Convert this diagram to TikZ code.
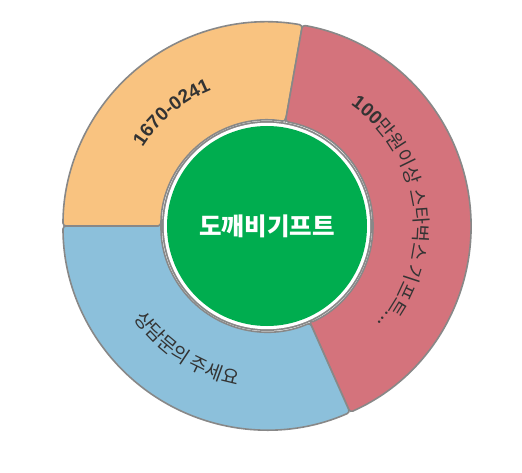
\documentclass[tikz,border=0pt]{standalone}
\usepackage{fontspec}
\setmainfont{Liberation Sans}
\newfontfamily\krfont{Noto Sans CJK KR}
\newfontfamily\digitfont{Liberation Sans}
\usetikzlibrary{decorations.text}
\definecolor{segorange}{RGB}{249,195,128}
\definecolor{segred}{RGB}{212,115,124}
\definecolor{segblue}{RGB}{140,192,219}
\definecolor{hubgreen}{RGB}{0,173,79}
\definecolor{ringgray}{RGB}{136,136,136}
\definecolor{labelgray}{RGB}{51,51,51}
\newcommand\lblnum{\digitfont\bfseries\fontsize{19}{19}\selectfont}
\newcommand\lblhan{\krfont\mdseries\fontsize{19}{19}\selectfont}

\tikzset{
  segment/.style={draw=ringgray, line width=1.6pt, rounded corners=3pt},
  arclabel/.style={decorate, decoration={text along path, text align=center,
    text color=labelgray, text={#1}}},
}

\begin{document}
\begin{tikzpicture}
  \useasboundingbox (0,0) rectangle (522pt,472pt);
  \def\rin{106pt}\def\rout{204pt}

  \begin{scope}[shift={(267pt,246pt)}]
    % Segment 1: phone number
    \draw[segment, fill=segorange] (80:\rin) -- (80:\rout)
      arc[start angle=80, end angle=180, radius=\rout] -- (180:\rin)
      arc[start angle=180, end angle=80, radius=\rin] -- cycle;

    % Segment 2: gift offer
    \draw[segment, fill=segred] (-66:\rin) -- (-66:\rout)
      arc[start angle=-66, end angle=80, radius=\rout] -- (80:\rin)
      arc[start angle=80, end angle=-66, radius=\rin] -- cycle;

    % Segment 3: contact
    \draw[segment, fill=segblue] (180:\rin) -- (180:\rout)
      arc[start angle=180, end angle=294, radius=\rout] -- (294:\rin)
      arc[start angle=294, end angle=180, radius=\rin] -- cycle;

    % Labels along the ring
    \path[arclabel={|\lblnum|1670-0241}]
      (180:147pt) arc[start angle=180, end angle=80, radius=147pt];
    \path[arclabel={|\lblnum|100|\lblhan|만원이상 스타벅스 기프트...}]
      (80:147pt) arc[start angle=80, end angle=-66, radius=147pt];
    \path[arclabel={|\lblhan|상담문의 주세요}]
      (180:162pt) arc[start angle=180, end angle=294, radius=162pt];

    % Hub
    \fill[ringgray] (0,0) circle (105pt);
    \fill[white] (0,0) circle (103.2pt);
    \fill[hubgreen] (0,0) circle (100pt);
    \node[font=\krfont\bfseries\fontsize{24.5}{24.5}\selectfont, text=white]
      (hub) at (0,0) {도깨비기프트};
  \end{scope}
\end{tikzpicture}
\end{document}
